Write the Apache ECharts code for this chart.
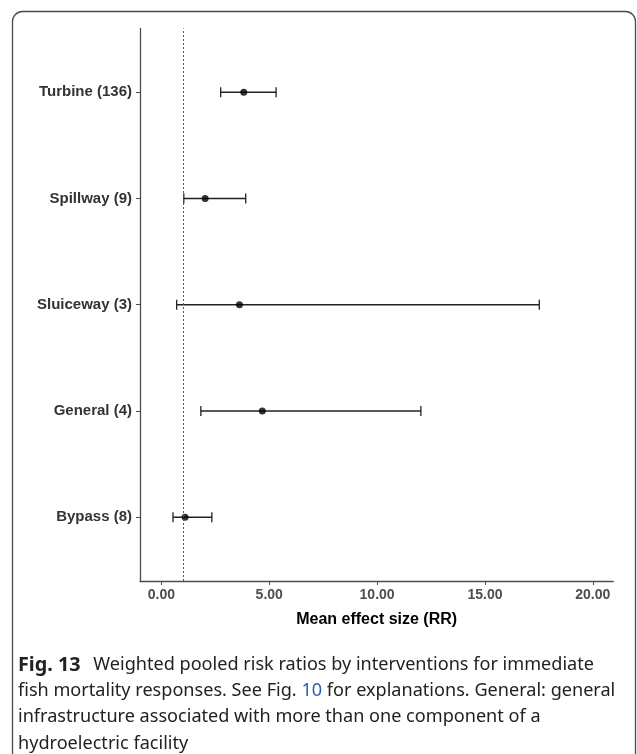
<!DOCTYPE html>
<html>
<head>
<meta charset="utf-8">
<script src="https://cdn.jsdelivr.net/npm/echarts@6/dist/echarts.min.js"></script>
<style>
html,body{margin:0;padding:0;background:#fff;}
#main{width:637px;height:754px;}
</style>
</head>
<body>
<div id="main"></div>
<script>
var categories = ['Bypass (8)', 'General (4)', 'Sluiceway (3)', 'Spillway (9)', 'Turbine (136)'];
var means = [1.10, 4.68, 3.62, 2.03, 3.82];
var lower = [0.54, 1.83, 0.71, 1.04, 2.75];
var upper = [2.34, 12.03, 17.52, 3.91, 5.32];
var xTicks = [0, 5, 10, 15, 20];
var refValue = 1;
var captionLines = [
  [['b', 'Fig. 13'], ['n', ' Weighted pooled risk ratios by interventions for immediate']],
  [['n', 'fish mortality responses. See Fig. '], ['l', '10'], ['n', ' for explanations. General: general']],
  [['n', 'infrastructure associated with more than one component of a']],
  [['n', 'hydroelectric facility']]
];

var yPos = categories.map(function (c, i) { return i + 1; });
var errData = categories.map(function (c, i) { return [lower[i], upper[i], yPos[i]]; });
var pointData = categories.map(function (c, i) { return [means[i], yPos[i]]; });

var chart = echarts.init(document.getElementById('main'), null, {renderer: 'canvas'});

var graphics = [{
  type: 'rect',
  shape: {x: 12.5, y: 11.5, width: 623, height: 760, r: 10},
  style: {fill: 'none', stroke: '#4a4a4a', lineWidth: 1.3},
  silent: true
}];
var capFont = 18.1;
captionLines.forEach(function (line, li) {
  var txt = line.map(function (p) { return '{' + p[0] + '|' + p[1] + '}'; }).join('');
  graphics.push({
    type: 'text',
    left: 18,
    top: 655 + li * 26.6,
    style: {
      text: txt,
      rich: {
        b: {fontFamily: 'Noto Sans', fontSize: 19.8, fontWeight: 'bold', fill: '#222', padding: [0, 8, 0, 0]},
        n: {fontFamily: 'Noto Sans', fontSize: capFont, fill: '#222'},
        l: {fontFamily: 'Noto Sans', fontSize: capFont, fill: '#2d5fb5'}
      }
    },
    silent: true
  });
});

chart.setOption({
  animation: false,
  grid: {left: 140, right: 23.7, top: 28.5, bottom: 173},
  xAxis: {
    type: 'value',
    min: -0.99,
    max: 20.95,
    name: 'Mean effect size (RR)',
    nameLocation: 'middle',
    nameGap: 31,
    nameTextStyle: {fontFamily: 'Liberation Sans', fontSize: 16, fontWeight: 'bold', color: '#000'},
    axisLine: {show: true, onZero: false, lineStyle: {color: '#4d4d4d', width: 1.3}},
    axisTick: {show: true, length: 4, customValues: xTicks, lineStyle: {color: '#4d4d4d', width: 1}},
    axisLabel: {
      customValues: xTicks,
      margin: 7,
      fontFamily: 'Liberation Sans', fontSize: 14, fontWeight: 'bold', color: '#4d4d4d',
      formatter: function (v) { return Number(v).toFixed(2); }
    },
    splitLine: {show: false}
  },
  yAxis: {
    type: 'value',
    min: 0.4,
    max: 5.6,
    axisLine: {show: true, onZero: false, lineStyle: {color: '#4d4d4d', width: 1.3}},
    axisTick: {show: true, length: 4, customValues: yPos, lineStyle: {color: '#4d4d4d', width: 1}},
    axisLabel: {
      customValues: yPos,
      margin: 8,
      fontFamily: 'Liberation Sans', fontSize: 15, fontWeight: 'bold', color: '#333',
      formatter: function (v) { return categories[Math.round(v) - 1] || ''; }
    },
    splitLine: {show: false}
  },
  graphic: graphics,
  series: [
    {
      type: 'custom',
      silent: true,
      data: errData,
      encode: {x: [0, 1], y: 2},
      renderItem: function (params, api) {
        var a = api.coord([api.value(0), api.value(2)]);
        var b = api.coord([api.value(1), api.value(2)]);
        var h = 5;
        var st = {stroke: '#222', lineWidth: 1.3, fill: 'none'};
        return {
          type: 'group',
          children: [
            {type: 'line', shape: {x1: a[0], y1: a[1], x2: b[0], y2: b[1]}, style: st},
            {type: 'line', shape: {x1: a[0], y1: a[1] - h, x2: a[0], y2: a[1] + h}, style: st},
            {type: 'line', shape: {x1: b[0], y1: b[1] - h, x2: b[0], y2: b[1] + h}, style: st}
          ]
        };
      },
      z: 3
    },
    {
      type: 'scatter',
      silent: true,
      data: pointData,
      symbol: 'circle',
      symbolSize: 7,
      itemStyle: {color: '#000'},
      z: 4,
      markLine: {
        silent: true,
        symbol: ['none', 'none'],
        label: {show: false},
        lineStyle: {type: [2, 2], color: '#555', width: 1},
        data: [{xAxis: refValue}]
      }
    }
  ]
});
</script>
</body>
</html>
